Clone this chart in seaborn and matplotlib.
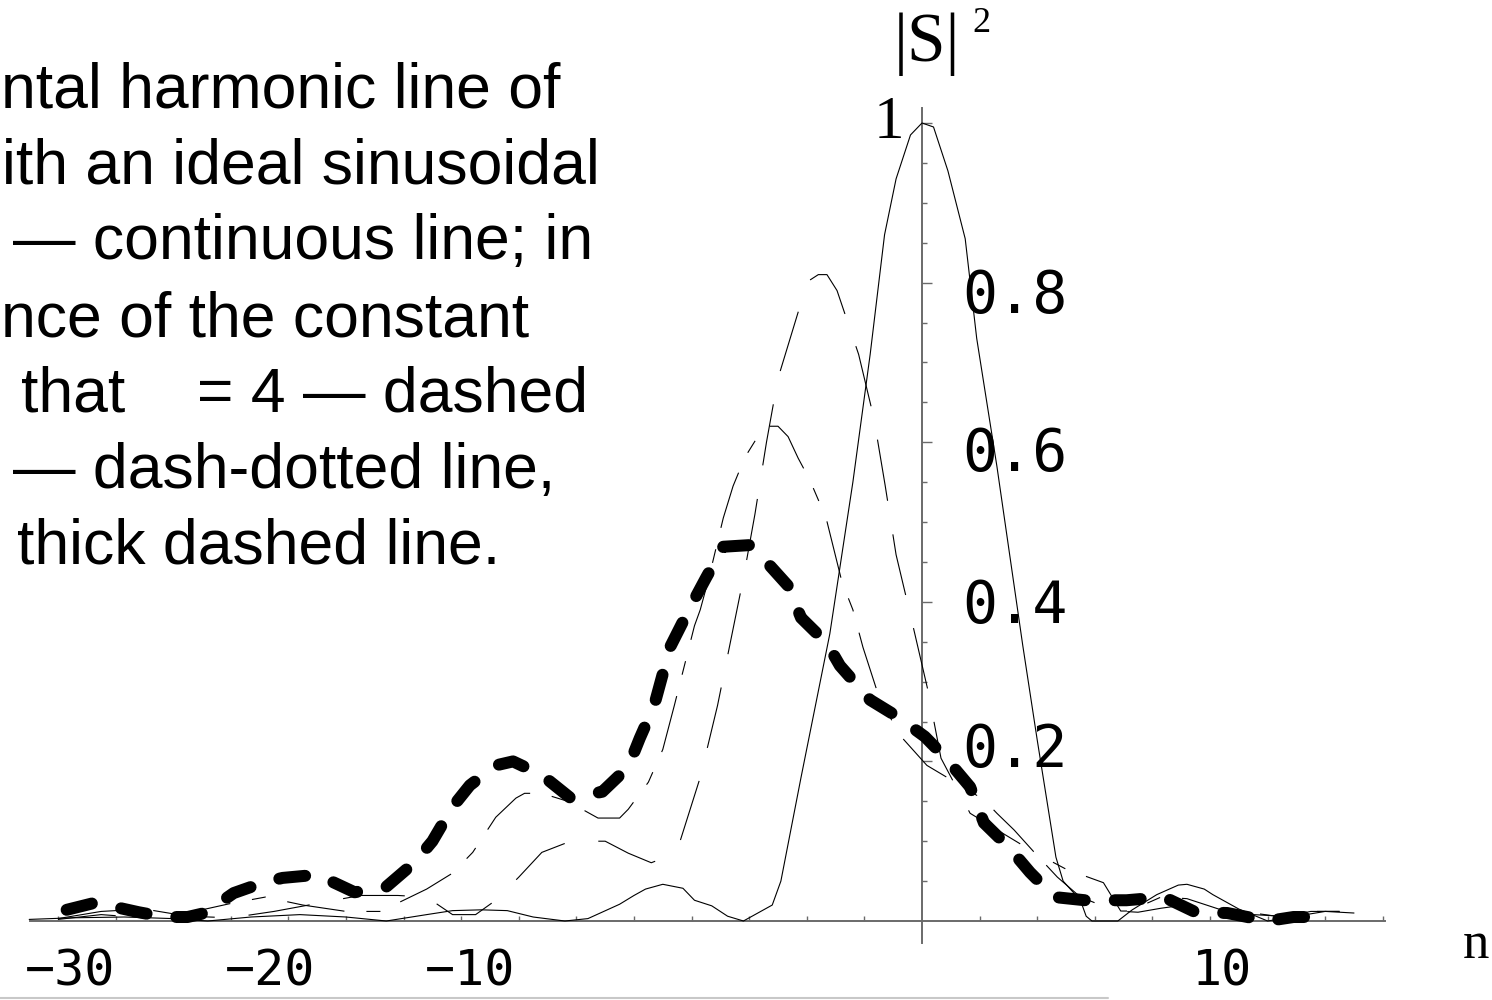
import matplotlib
matplotlib.use("Agg")
import matplotlib.pyplot as plt
import seaborn as sns
from matplotlib.lines import Line2D

sns.set_theme(style="white")
plt.rcParams['font.family'] = ['Liberation Sans', 'DejaVu Sans']

# ---- spectra |S|^2 versus harmonic number n ----
# ideal sinusoidal modulation (continuous line)
n_ideal = [-31, -29.5, -27.7, -26, -24.8, -23.3, -21.6, -20, -18.6, -17.2, -16.3, -15.3,
           -14.4, -13.5, -12.4, -11.6, -10.5, -10.0, -9.6, -9.0, -8.3, -7.9, -7.3, -6.75,
           -6.2, -5.6, -5.2, -4.9, -4.2, -3.2, -2.4, -1.8, -1.3, -0.9, -0.4, 0, 0.4, 0.9,
           1.5, 1.9, 2.6, 3.5, 4.0, 4.65, 4.9, 5.5, 5.7, 5.9, 6.8, 7.3, 8.15, 8.9, 9.2,
           9.8, 10.1, 11.0, 11.5, 12.0, 13.0, 14.0, 15.0]
s_ideal = [0.002, 0.004, 0.005, 0.003, 0.0, 0.005, 0.008, 0.005, 0.0, 0.008, 0.013, 0.014,
           0.013, 0.005, 0.0, 0.003, 0.021, 0.032, 0.040, 0.046, 0.041, 0.026, 0.019, 0.006,
           0.0, 0.012, 0.02, 0.05, 0.18, 0.36, 0.55, 0.71, 0.86, 0.93, 0.985, 1.0, 0.995, 0.94,
           0.855, 0.73, 0.57, 0.345, 0.227, 0.08, 0.05, 0.026, 0.006, 0.0, 0.0, 0.014, 0.033,
           0.045, 0.046, 0.04, 0.033, 0.015, 0.0075, 0.0, 0.006, 0.012, 0.01]

# constant = 4 (dashed line)
n_dash = [-30, -28.5, -27, -25.5, -24, -22.5, -21, -19.5, -18.2, -17.2, -16.3, -15.5, -14.8,
          -14.0, -13.2, -12.2, -11.0, -10.2, -9.4, -8.9, -8.4, -7.7, -7.1, -6.2, -5.8, -5.4,
          -5.0, -4.3, -3.9, -3.6, -3.3, -2.95, -2.2, -1.67, -1.28, -0.9, -0.36, 0.2, 0.66,
          1.67, 2.8, 3.9, 4.7, 5.5, 6.2, 7.0, 7.5, 8.3, 9.5, 10.5, 11.5, 12.5, 13.5, 14.5]
s_dash = [0.003, 0.012, 0.015, 0.006, 0.004, 0.012, 0.022, 0.032, 0.032, 0.03, 0.008, 0.008,
          0.026, 0.055, 0.086, 0.1, 0.1, 0.085, 0.073, 0.08, 0.10, 0.18, 0.27, 0.43, 0.51, 0.60,
          0.68, 0.763, 0.803, 0.81, 0.81, 0.79, 0.71, 0.63, 0.546, 0.459, 0.377, 0.29, 0.204,
          0.135, 0.11, 0.086, 0.055, 0.03, 0.02, 0.012, 0.011, 0.016, 0.022, 0.015, 0.008,
          0.006, 0.012, 0.012]

# dash-dotted line
n_dashdot = [-30, -28.5, -27, -25.5, -24, -22.8, -21.5, -20, -18.8, -17.2, -16.3, -15.6, -14.8,
             -14.1, -13.8, -13.2, -12.3, -11.25, -10.5, -10.2, -9.5, -9.0, -8.6, -7.9, -7.7,
             -7.4, -6.9, -6.56, -6.15, -5.6, -5.4, -5.0, -4.65, -4.3, -3.9, -3.33, -2.78, -2.4,
             -2.05, -1.46, -0.7, 0.17, 1.1, 2.15, 2.6, 3.2, 3.9, 5.0, 6.3, 6.9, 7.2, 8.3, 9.2,
             10.3, 11.5, 12.5, 13.5, 14.5]
s_dashdot = [0.002, 0.008, 0.004, 0.01, 0.022, 0.03, 0.02, 0.012, 0.012, 0.04, 0.06, 0.086, 0.13,
             0.154, 0.16, 0.16, 0.15, 0.129, 0.129, 0.14, 0.174, 0.215, 0.27, 0.37, 0.39,
             0.43, 0.505, 0.545, 0.581, 0.613, 0.62, 0.62, 0.607, 0.58, 0.553, 0.505, 0.425, 0.39,
             0.343, 0.277, 0.23, 0.195, 0.175, 0.152, 0.135, 0.114, 0.086, 0.065, 0.048, 0.0125,
             0.0125, 0.03, 0.028, 0.015, 0.01, 0.005, 0.012, 0.012]

# thick dashed line
n_thick = [-29.7, -28.7, -27.2, -26.3, -25.5, -24.9, -23.9, -22.8, -22.2, -21.0, -19.7, -18.6,
           -17.6, -17.0, -16.3, -15.7, -14.8, -14.2, -13.2, -12.2, -11.1, -10.2, -9.8, -9.3,
           -8.75, -8.05, -7.5, -6.9, -6.0, -5.4, -4.65, -4.2, -3.3, -2.85, -1.8, -0.85, 0.1,
           0.83, 1.67, 2.15, 3.0, 3.75, 4.6, 5.66, 7.1, 8.4, 9.5, 10.6, 12.0, 12.9, 14.1]
s_thick = [0.014, 0.023, 0.011, 0.005, 0.005, 0.010, 0.035, 0.049, 0.054, 0.058, 0.036, 0.043,
           0.074, 0.10, 0.143, 0.17, 0.195, 0.20, 0.183, 0.154, 0.162, 0.193, 0.229, 0.27,
           0.343, 0.393, 0.43, 0.469, 0.471, 0.45, 0.42, 0.38, 0.348, 0.32, 0.277, 0.256, 0.231,
           0.204, 0.168, 0.123, 0.093, 0.061, 0.03, 0.026, 0.026, 0.03, 0.011, 0.01, 0.0,
           0.005, 0.005]

# axis ticks and labels
x_ticks = [t for t in range(-30, 17, 2) if t != 0]
x_labels = ["\u221230", "\u221220", "\u221210", "10"]
y_major = [0.2, 0.4, 0.6, 0.8, 1.0]
y_minor = [round(0.05 * k, 2) for k in range(1, 20) if k % 4 != 0]
y_labels = ["0.8", "0.6", "0.4", "0.2"]

# label placement in pixels (centres)
x_label_px = [70, 270, 470, 1222]
y_label_py = [297, 455, 606, 751]

W, H = 1492, 1000
PX = 0.72  # points per pixel at 100 dpi
fig = plt.figure(figsize=(W / 100, H / 100), dpi=100, facecolor="white")
ax = fig.add_axes([0, 0, 1, 1])
ax.set_facecolor("none")

# pixel -> data scales: 28.8 px per unit in n, 798 px per unit in |S|^2, origin at (922, 921)
X0, Y0, KX, KY = 922, 921, 28.8, 798
ax.set_xlim(-X0 / KX, (W - X0) / KX)
ax.set_ylim((Y0 - H) / KY, Y0 / KY)


def dash_style(pattern_px, lw_pt):
    return (0, tuple(p * PX / lw_pt for p in pattern_px))


thin = 0.8
sns.lineplot(x=n_ideal, y=s_ideal, ax=ax, color="black", linewidth=thin,
             sort=False, estimator=None, zorder=3)
sns.lineplot(x=n_dash, y=s_dash, ax=ax, color="black", linewidth=thin,
             linestyle=dash_style([62, 34], thin), sort=False, estimator=None, zorder=3)
sns.lineplot(x=n_dashdot, y=s_dashdot, ax=ax, color="black", linewidth=thin,
             linestyle=dash_style([58, 22, 14, 22], thin), sort=False, estimator=None, zorder=3)
thick = 12 * PX
sns.lineplot(x=n_thick, y=s_thick, ax=ax, color="black", linewidth=thick,
             linestyle=dash_style([26, 30], thick), dash_capstyle="round",
             sort=False, estimator=None, zorder=4)

# axes crossing at the origin
axis_color = "#6a6a6a"
for side in ["top", "right"]:
    ax.spines[side].set_visible(False)
ax.spines["left"].set_position(("data", 0))
ax.spines["bottom"].set_position(("data", 0))
ax.spines["bottom"].set_bounds(-30.97, 16.08)
ax.spines["left"].set_bounds(-0.028, 1.019)
for side in ["left", "bottom"]:
    ax.spines[side].set_color(axis_color)
    ax.spines[side].set_linewidth(1.4)
    ax.spines[side].set_zorder(2)

ax.set_xticks(x_ticks)
ax.set_xticklabels([])
ax.set_yticks(y_major)
ax.set_yticks(y_minor, minor=True)
ax.set_yticklabels([])
ax.tick_params(axis="x", which="both", direction="in", length=5 * PX, width=1,
               color=axis_color, bottom=True)
ax.tick_params(axis="y", which="major", direction="in", length=10 * PX, width=1,
               color=axis_color, left=True)
ax.tick_params(axis="y", which="minor", direction="in", length=5 * PX, width=1,
               color=axis_color, left=True)
ax.grid(False)

mono = ["DejaVu Sans Mono"]
serif = ["Liberation Serif", "DejaVu Serif"]

for px, lab in zip(x_label_px, x_labels):
    ax.text((px - X0) / KX, (Y0 - 972) / KY, lab, fontsize=36, family=mono,
            ha="center", va="center", color="black")
for py, lab in zip(y_label_py, y_labels):
    ax.text(40 / KX, (Y0 - py) / KY, lab, fontsize=42, family=mono,
            ha="left", va="center", color="black")
ax.text(-18 / KX, 1.0, "1", fontsize=44, family=serif, ha="right", va="center",
        color="black")


def fx(px):
    return px / W


def fy(py):
    return 1 - py / H


# axis names
fig.text(fx(927), fy(61), "|S|", fontsize=50, family=serif, ha="center",
         va="baseline", color="black")
fig.text(fx(972), fy(32), "2", fontsize=26, family=serif, ha="left",
         va="baseline", color="black")
fig.text(fx(1463), fy(958), "n", fontsize=38, family=serif, ha="left",
         va="baseline", color="black")

# caption text
caption = [
    (1, 107, "ntal harmonic line of"),
    (2, 183, "ith an ideal sinusoidal"),
    (13, 259, "\u2014 continuous line; in"),
    (1, 336, "nce of the constant"),
    (21, 412, "that"),
    (197, 412, "= 4 \u2014 dashed"),
    (13, 488, "\u2014 dash-dotted line,"),
    (17, 564, "thick dashed line."),
]
for x0, y0, s in caption:
    fig.text(fx(x0), fy(y0), s, fontsize=45, family=["Liberation Sans", "DejaVu Sans"],
             ha="left", va="baseline", color="black")

# page edge line along the bottom
fig.add_artist(Line2D([0, fx(1108)], [fy(998), fy(998)], color="#c8c8c8", linewidth=1.5))

fig.savefig("out.png", dpi=100, facecolor="white")
